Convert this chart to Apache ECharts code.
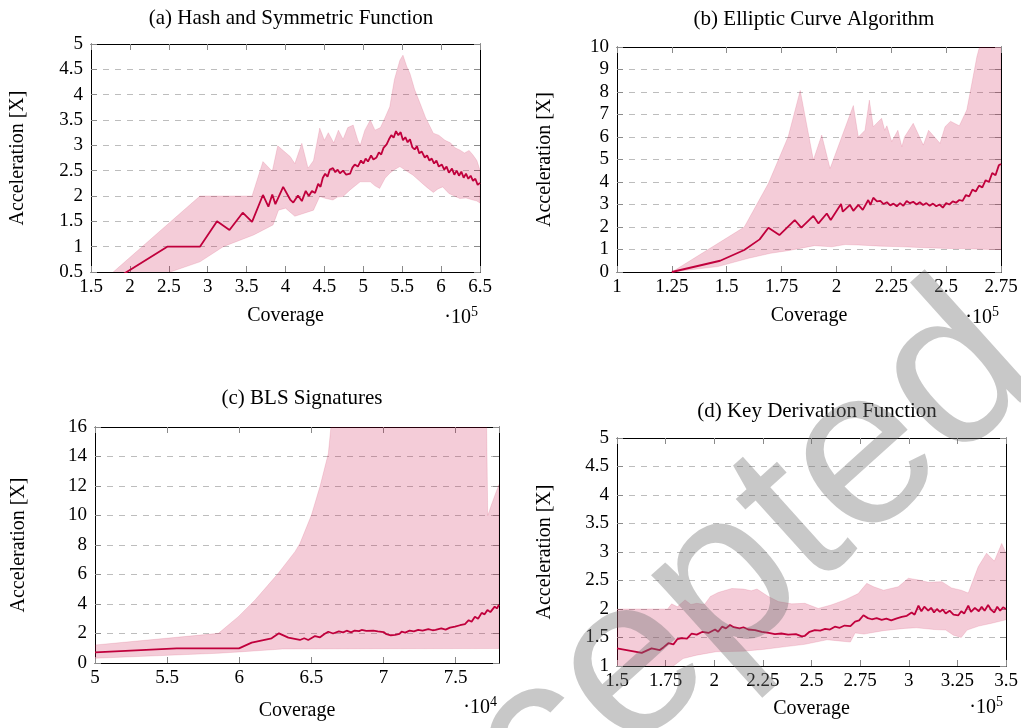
<!DOCTYPE html>
<html>
<head>
<meta charset="utf-8">
<script src="https://cdn.jsdelivr.net/npm/echarts@6/dist/echarts.min.js"></script>
<style>
  html, body { margin: 0; padding: 0; background: #fff; }
  #chart { width: 1021px; height: 728px; }
</style>
</head>
<body>
<div id="chart"></div>
<script>
// (a) Hash and Symmetric Function, x in 10^5
const meanA = [
  [1.75, 0.30], [2.48, 1.00], [2.90, 1.00], [3.12, 1.50], [3.28, 1.33], [3.45, 1.67], [3.57, 1.49],
  [3.71, 2.02], [3.78, 1.79], [3.83, 2.03], [3.87, 1.84], [3.97, 2.18], [4.06, 1.93], [4.10, 1.87],
  [4.16, 2.01], [4.21, 1.90], [4.26, 2.10], [4.30, 2.00], [4.34, 2.10], [4.38, 2.06], [4.42, 2.24],
  [4.45, 2.18], [4.48, 2.36], [4.51, 2.44], [4.54, 2.38], [4.57, 2.52], [4.61, 2.55], [4.64, 2.47],
  [4.67, 2.52], [4.70, 2.45], [4.74, 2.50], [4.78, 2.42], [4.83, 2.44], [4.86, 2.56], [4.89, 2.62],
  [4.93, 2.58], [4.97, 2.70], [5.00, 2.64], [5.03, 2.74], [5.06, 2.68], [5.10, 2.80], [5.13, 2.72],
  [5.17, 2.76], [5.20, 2.86], [5.23, 2.82], [5.26, 2.95], [5.30, 3.02], [5.33, 3.12], [5.36, 3.20],
  [5.39, 3.15], [5.42, 3.28], [5.45, 3.20], [5.48, 3.26], [5.51, 3.10], [5.54, 3.16], [5.57, 3.06],
  [5.60, 3.12], [5.63, 2.96], [5.66, 2.92], [5.69, 2.98], [5.72, 2.84], [5.75, 2.88], [5.79, 2.76],
  [5.82, 2.80], [5.85, 2.70], [5.88, 2.74], [5.91, 2.64], [5.94, 2.70], [5.97, 2.58], [6.01, 2.62],
  [6.04, 2.52], [6.07, 2.58], [6.10, 2.46], [6.14, 2.54], [6.17, 2.42], [6.20, 2.50], [6.23, 2.40],
  [6.26, 2.48], [6.29, 2.36], [6.32, 2.44], [6.35, 2.34], [6.38, 2.40], [6.41, 2.30], [6.44, 2.34],
  [6.47, 2.22], [6.50, 2.26]
];
const upperA = [
  [1.60, 0.25], [2.90, 2.00], [3.57, 2.00], [3.71, 2.68], [3.83, 2.49], [3.90, 2.99], [4.06, 2.78],
  [4.12, 2.64], [4.21, 3.04], [4.29, 2.55], [4.36, 2.70], [4.44, 3.34], [4.50, 3.10], [4.55, 3.25],
  [4.62, 3.05], [4.68, 3.30], [4.74, 3.12], [4.80, 3.35], [4.87, 3.40], [4.93, 3.10], [4.96, 3.00],
  [5.02, 3.30], [5.09, 3.50], [5.15, 3.30], [5.22, 3.35], [5.28, 3.55], [5.34, 3.76], [5.40, 4.30],
  [5.47, 4.68], [5.51, 4.78], [5.56, 4.55], [5.60, 4.42], [5.66, 4.10], [5.73, 3.83], [5.80, 3.55],
  [5.90, 3.24], [5.97, 3.20], [6.05, 3.10], [6.12, 3.05], [6.18, 2.95], [6.24, 2.91], [6.30, 2.85],
  [6.36, 2.90], [6.41, 2.81], [6.46, 2.70], [6.50, 2.51]
];
const lowerA = [
  [1.60, 0.00], [2.52, 0.50], [2.90, 0.70], [3.20, 1.00], [3.59, 1.23], [3.84, 1.43], [3.91, 1.72],
  [4.00, 1.76], [4.12, 1.60], [4.36, 1.72], [4.44, 1.99], [4.52, 1.95], [4.61, 1.92], [4.67, 1.98],
  [4.74, 1.99], [4.83, 2.12], [4.96, 2.28], [5.09, 2.28], [5.15, 2.20], [5.21, 2.15], [5.28, 2.35],
  [5.34, 2.45], [5.40, 2.52], [5.47, 2.58], [5.55, 2.50], [5.64, 2.41], [5.72, 2.30], [5.81, 2.18],
  [5.90, 2.07], [5.96, 2.14], [6.02, 2.18], [6.10, 2.05], [6.17, 2.00], [6.24, 1.95], [6.32, 1.96],
  [6.41, 1.92], [6.46, 1.90], [6.50, 1.86]
];

// (b) Elliptic Curve Algorithm, x in 10^5
const meanB = [
  [1.25, 0.00], [1.47, 0.50], [1.58, 0.98], [1.65, 1.45], [1.69, 1.97], [1.74, 1.64], [1.81, 2.31],
  [1.84, 1.97], [1.895, 2.49], [1.918, 2.16], [1.956, 2.60], [1.974, 2.31], [2.021, 3.02], [2.029, 2.68],
  [2.062, 2.98], [2.077, 2.72], [2.100, 2.98], [2.120, 2.76], [2.145, 3.20], [2.155, 2.98], [2.168, 3.30],
  [2.185, 3.14], [2.200, 3.16], [2.215, 3.02], [2.230, 3.10], [2.245, 2.96], [2.260, 3.04], [2.275, 2.92],
  [2.290, 3.06], [2.305, 2.94], [2.320, 3.16], [2.335, 3.06], [2.350, 3.12], [2.365, 3.00], [2.380, 3.10],
  [2.395, 2.98], [2.410, 3.06], [2.425, 2.94], [2.440, 3.04], [2.455, 2.92], [2.470, 3.00], [2.485, 2.86],
  [2.500, 3.06], [2.515, 3.00], [2.530, 3.14], [2.545, 3.08], [2.560, 3.20], [2.575, 3.16], [2.590, 3.42],
  [2.605, 3.36], [2.620, 3.66], [2.635, 3.58], [2.650, 3.84], [2.665, 3.76], [2.680, 4.08], [2.695, 4.00],
  [2.710, 4.40], [2.725, 4.30], [2.740, 4.74], [2.750, 4.80]
];
const upperB = [
  [1.25, 0.00], [1.58, 2.00], [1.69, 3.94], [1.78, 6.01], [1.835, 8.07], [1.895, 4.98], [1.933, 6.09],
  [1.971, 4.60], [2.077, 7.40], [2.100, 6.00], [2.130, 6.30], [2.150, 7.64], [2.168, 6.46], [2.206, 6.83],
  [2.220, 6.30], [2.230, 6.50], [2.252, 5.80], [2.280, 6.30], [2.298, 5.57], [2.310, 6.00], [2.350, 6.61],
  [2.396, 5.64], [2.420, 6.30], [2.472, 5.72], [2.495, 6.46], [2.520, 6.70], [2.560, 6.50], [2.594, 7.20],
  [2.617, 8.38], [2.640, 9.57], [2.660, 10.30], [2.700, 10.60], [2.720, 10.10], [2.750, 10.50]
];
const lowerB = [
  [1.25, 0.00], [1.46, 0.24], [1.60, 0.61], [1.70, 0.83], [1.78, 0.95], [1.90, 1.17], [1.98, 1.12],
  [2.04, 1.22], [2.10, 1.20], [2.20, 1.15], [2.30, 1.12], [2.40, 1.08], [2.50, 1.05], [2.60, 1.03],
  [2.70, 1.00], [2.75, 1.00]
];

// (c) BLS Signatures, x in 10^4
const meanC = [
  [5.000, 0.72], [5.566, 0.99], [5.998, 0.99], [6.086, 1.38], [6.224, 1.67], [6.275, 2.01], [6.340, 1.72],
  [6.420, 1.56], [6.450, 1.68], [6.478, 1.56], [6.525, 1.83], [6.560, 1.74], [6.590, 1.96], [6.617, 2.12],
  [6.650, 2.00], [6.690, 2.14], [6.720, 2.08], [6.744, 2.19], [6.775, 2.08], [6.800, 2.20], [6.830, 2.16],
  [6.848, 2.24], [6.880, 2.18], [6.929, 2.19], [6.960, 2.14], [7.000, 2.10], [7.020, 1.95], [7.050, 1.88],
  [7.080, 1.90], [7.110, 1.98], [7.125, 2.12], [7.150, 2.06], [7.180, 2.19], [7.210, 2.14], [7.240, 2.24],
  [7.270, 2.20], [7.310, 2.30], [7.340, 2.22], [7.360, 2.24], [7.400, 2.34], [7.430, 2.26], [7.460, 2.40],
  [7.495, 2.46], [7.530, 2.56], [7.564, 2.64], [7.590, 2.90], [7.610, 2.80], [7.633, 3.14], [7.655, 3.00],
  [7.680, 3.40], [7.700, 3.30], [7.720, 3.60], [7.740, 3.45], [7.770, 3.82], [7.785, 3.70], [7.800, 3.95]
];
const upperC = [
  [5.000, 1.22], [5.855, 2.01], [5.993, 3.14], [6.109, 4.27], [6.270, 6.08], [6.386, 7.55], [6.420, 8.10],
  [6.500, 10.03], [6.560, 12.00], [6.617, 14.20], [6.640, 16.50], [6.660, 18.00], [7.700, 18.00],
  [7.714, 16.50], [7.722, 10.00], [7.750, 10.80], [7.780, 11.60], [7.800, 12.10]
];
const lowerC = [
  [5.000, 0.32], [5.855, 0.66], [6.000, 0.75], [6.200, 0.88], [6.300, 0.95], [7.000, 0.97], [7.800, 0.98]
];

// (d) Key Derivation Function, x in 10^5
const meanD = [
  [1.500, 1.31], [1.627, 1.23], [1.678, 1.31], [1.720, 1.28], [1.740, 1.33], [1.764, 1.40], [1.790, 1.38],
  [1.810, 1.47], [1.833, 1.49], [1.860, 1.48], [1.884, 1.57], [1.910, 1.55], [1.940, 1.60], [1.970, 1.58],
  [2.004, 1.64], [2.020, 1.60], [2.040, 1.69], [2.060, 1.66], [2.081, 1.72], [2.100, 1.68], [2.130, 1.66],
  [2.150, 1.68], [2.175, 1.64], [2.210, 1.63], [2.244, 1.60], [2.280, 1.58], [2.312, 1.56], [2.345, 1.57],
  [2.380, 1.55], [2.420, 1.56], [2.450, 1.52], [2.466, 1.53], [2.490, 1.60], [2.517, 1.63], [2.545, 1.62],
  [2.570, 1.65], [2.595, 1.64], [2.620, 1.69], [2.645, 1.67], [2.670, 1.71], [2.700, 1.70], [2.724, 1.78],
  [2.745, 1.80], [2.767, 1.89], [2.790, 1.84], [2.810, 1.82], [2.835, 1.84], [2.861, 1.81], [2.885, 1.83],
  [2.910, 1.80], [2.935, 1.83], [2.964, 1.86], [2.990, 1.88], [3.015, 1.94], [3.030, 1.90], [3.050, 2.06],
  [3.065, 1.96], [3.080, 2.04], [3.100, 1.97], [3.115, 2.02], [3.130, 1.94], [3.145, 2.00], [3.160, 1.95],
  [3.175, 1.99], [3.190, 1.92], [3.210, 1.97], [3.230, 1.90], [3.255, 1.89], [3.270, 1.96], [3.285, 1.92],
  [3.306, 2.06], [3.320, 1.95], [3.340, 2.02], [3.360, 1.96], [3.375, 2.04], [3.390, 1.97], [3.408, 2.07],
  [3.425, 1.98], [3.440, 1.94], [3.455, 2.04], [3.470, 1.97], [3.485, 2.03], [3.500, 2.00]
];
const upperD = [
  [1.500, 2.00], [1.760, 2.00], [1.781, 2.09], [1.810, 2.04], [1.850, 2.16], [1.880, 2.08], [1.910, 2.10],
  [1.950, 2.08], [1.980, 2.22], [2.020, 2.29], [2.090, 2.36], [2.150, 2.35], [2.190, 2.32], [2.220, 2.35],
  [2.278, 2.22], [2.330, 2.13], [2.398, 2.09], [2.466, 2.10], [2.535, 2.01], [2.600, 2.07], [2.672, 2.16],
  [2.740, 2.27], [2.784, 2.45], [2.820, 2.39], [2.870, 2.33], [2.946, 2.39], [2.998, 2.54], [3.050, 2.51],
  [3.100, 2.47], [3.170, 2.48], [3.220, 2.37], [3.270, 2.33], [3.306, 2.28], [3.357, 2.74], [3.400, 2.98],
  [3.440, 2.84], [3.478, 3.15], [3.500, 2.98]
];
const lowerD = [
  [1.500, 1.02], [1.550, 0.95], [1.650, 0.90], [1.750, 0.93], [1.790, 1.00], [1.840, 1.13], [1.910, 1.19],
  [2.010, 1.25], [2.150, 1.26], [2.250, 1.29], [2.370, 1.34], [2.466, 1.38], [2.580, 1.46], [2.640, 1.44],
  [2.700, 1.42], [2.724, 1.58], [2.770, 1.56], [2.870, 1.62], [2.980, 1.66], [3.040, 1.67], [3.130, 1.64],
  [3.190, 1.63], [3.230, 1.54], [3.270, 1.50], [3.300, 1.63], [3.360, 1.70], [3.427, 1.75], [3.500, 1.81]
];

const titles = ['(a) Hash and Symmetric Function', '(b) Elliptic Curve Algorithm',
                '(c) BLS Signatures', '(d) Key Derivation Function'];
const xRanges = [[1.5, 6.5, 0.5], [1, 2.75, 0.25], [5, 7.8, 0.5], [1.5, 3.5, 0.25]];
const yRanges = [[0.5, 5, 0.5], [0, 10, 1], [0, 16, 2], [1, 5, 0.5]];
const exponents = ['5', '5', '4', '5'];

const panels = [
  { mean: meanA, upper: upperA, lower: lowerA },
  { mean: meanB, upper: upperB, lower: lowerB },
  { mean: meanC, upper: upperC, lower: lowerC },
  { mean: meanD, upper: upperD, lower: lowerD }
];

const serif = '"Liberation Serif", "DejaVu Serif", serif';
const lineColor = '#c0003c';
const bandColor = 'rgba(200, 0, 60, 0.2)';

const grids = [
  { left: 91, top: 44, width: 389, height: 228 },
  { left: 617, top: 47, width: 384, height: 225 },
  { left: 95, top: 427, width: 404, height: 236 },
  { left: 617, top: 438, width: 389, height: 228 }
];
const titlePos = [[286, 3], [809, 4], [297, 383], [812, 396]];
const expPos = [[478, 318], [999, 318], [497, 708], [1003, 708]];
const xNameGap = [34, 34, 38, 33];
const yNameGap = [63, 62, 66, 62];

const chart = echarts.init(document.getElementById('chart'));

const tick = { show: true, inside: true, length: 6, lineStyle: { color: '#8a8a8a', width: 1 } };
const frame = { show: true, onZero: false, lineStyle: { color: '#000', width: 1 } };

const xAxis = [];
const yAxis = [];
const series = [];

panels.forEach((p, i) => {
  const [x0, x1, xi] = xRanges[i];
  const [y0, y1, yi] = yRanges[i];
  xAxis.push({
    type: 'value', gridIndex: i, min: x0, max: x1, interval: xi,
    axisLine: frame, axisTick: tick, splitLine: { show: false },
    axisLabel: { color: '#000', fontFamily: serif, fontSize: 19, margin: 6, showMaxLabel: i !== 2 },
    name: 'Coverage', nameLocation: 'middle', nameGap: xNameGap[i],
    nameTextStyle: { color: '#000', fontFamily: serif, fontSize: 20 }
  });
  xAxis.push({
    type: 'value', gridIndex: i, position: 'top', min: x0, max: x1, interval: xi,
    axisLine: frame, axisTick: tick, axisLabel: { show: false }, splitLine: { show: false }
  });
  yAxis.push({
    type: 'value', gridIndex: i, min: y0, max: y1, interval: yi,
    axisLine: frame, axisTick: tick,
    splitLine: { show: true, lineStyle: { color: '#bdbdbd', type: [6, 6], width: 1 } },
    axisLabel: { color: '#000', fontFamily: serif, fontSize: 19, margin: 8 },
    name: 'Acceleration [X]', nameLocation: 'middle', nameGap: yNameGap[i],
    nameTextStyle: { color: '#000', fontFamily: serif, fontSize: 20 }
  });
  yAxis.push({
    type: 'value', gridIndex: i, position: 'right', min: y0, max: y1, interval: yi,
    axisLine: frame, axisTick: tick, axisLabel: { show: false }, splitLine: { show: false }
  });

  series.push({
    type: 'custom',
    xAxisIndex: 2 * i, yAxisIndex: 2 * i,
    clip: true,
    silent: true,
    z: 1,
    data: [p.upper[0]],
    renderItem: (params, api) => {
      const pts = p.upper.map(d => api.coord(d))
        .concat(p.lower.slice().reverse().map(d => api.coord(d)));
      return {
        type: 'polygon',
        shape: { points: pts },
        style: { fill: bandColor, stroke: 'rgba(200, 0, 60, 0.12)', lineWidth: 1 }
      };
    }
  });
  series.push({
    type: 'line',
    xAxisIndex: 2 * i, yAxisIndex: 2 * i,
    data: p.mean,
    showSymbol: false,
    clip: true,
    z: 3,
    lineStyle: { color: lineColor, width: 1.8 }
  });
});

const graphic = [];
expPos.forEach((pos, i) => {
  graphic.push({
    type: 'text', x: pos[0], y: pos[1], z: 10,
    style: {
      text: '{a|·10}{s|' + exponents[i] + '}',
      align: 'right', verticalAlign: 'middle',
      rich: {
        a: { fontFamily: serif, fontSize: 20, lineHeight: 26, fill: '#000' },
        s: { fontFamily: serif, fontSize: 14, lineHeight: 14, verticalAlign: 'top', fill: '#000' }
      }
    }
  });
});
// watermark
graphic.push({
  type: 'text', x: 655, y: 648, rotation: 42 * Math.PI / 180, z: 100, silent: true,
  style: {
    text: 'Accepted', align: 'center', verticalAlign: 'middle',
    fontFamily: '"Liberation Sans", "DejaVu Sans", sans-serif', fontSize: 225,
    fill: 'rgba(110, 110, 110, 0.38)'
  }
});

chart.setOption({
  animation: false,
  backgroundColor: '#fff',
  title: titles.map((t, i) => ({
    text: t, left: titlePos[i][0], top: titlePos[i][1], textAlign: 'center',
    textStyle: { fontFamily: serif, fontSize: 21, fontWeight: 'normal', color: '#000' }
  })),
  grid: grids.map(g => Object.assign({ containLabel: false }, g)),
  xAxis: xAxis,
  yAxis: yAxis,
  series: series,
  graphic: graphic
});
</script>
</body>
</html>
